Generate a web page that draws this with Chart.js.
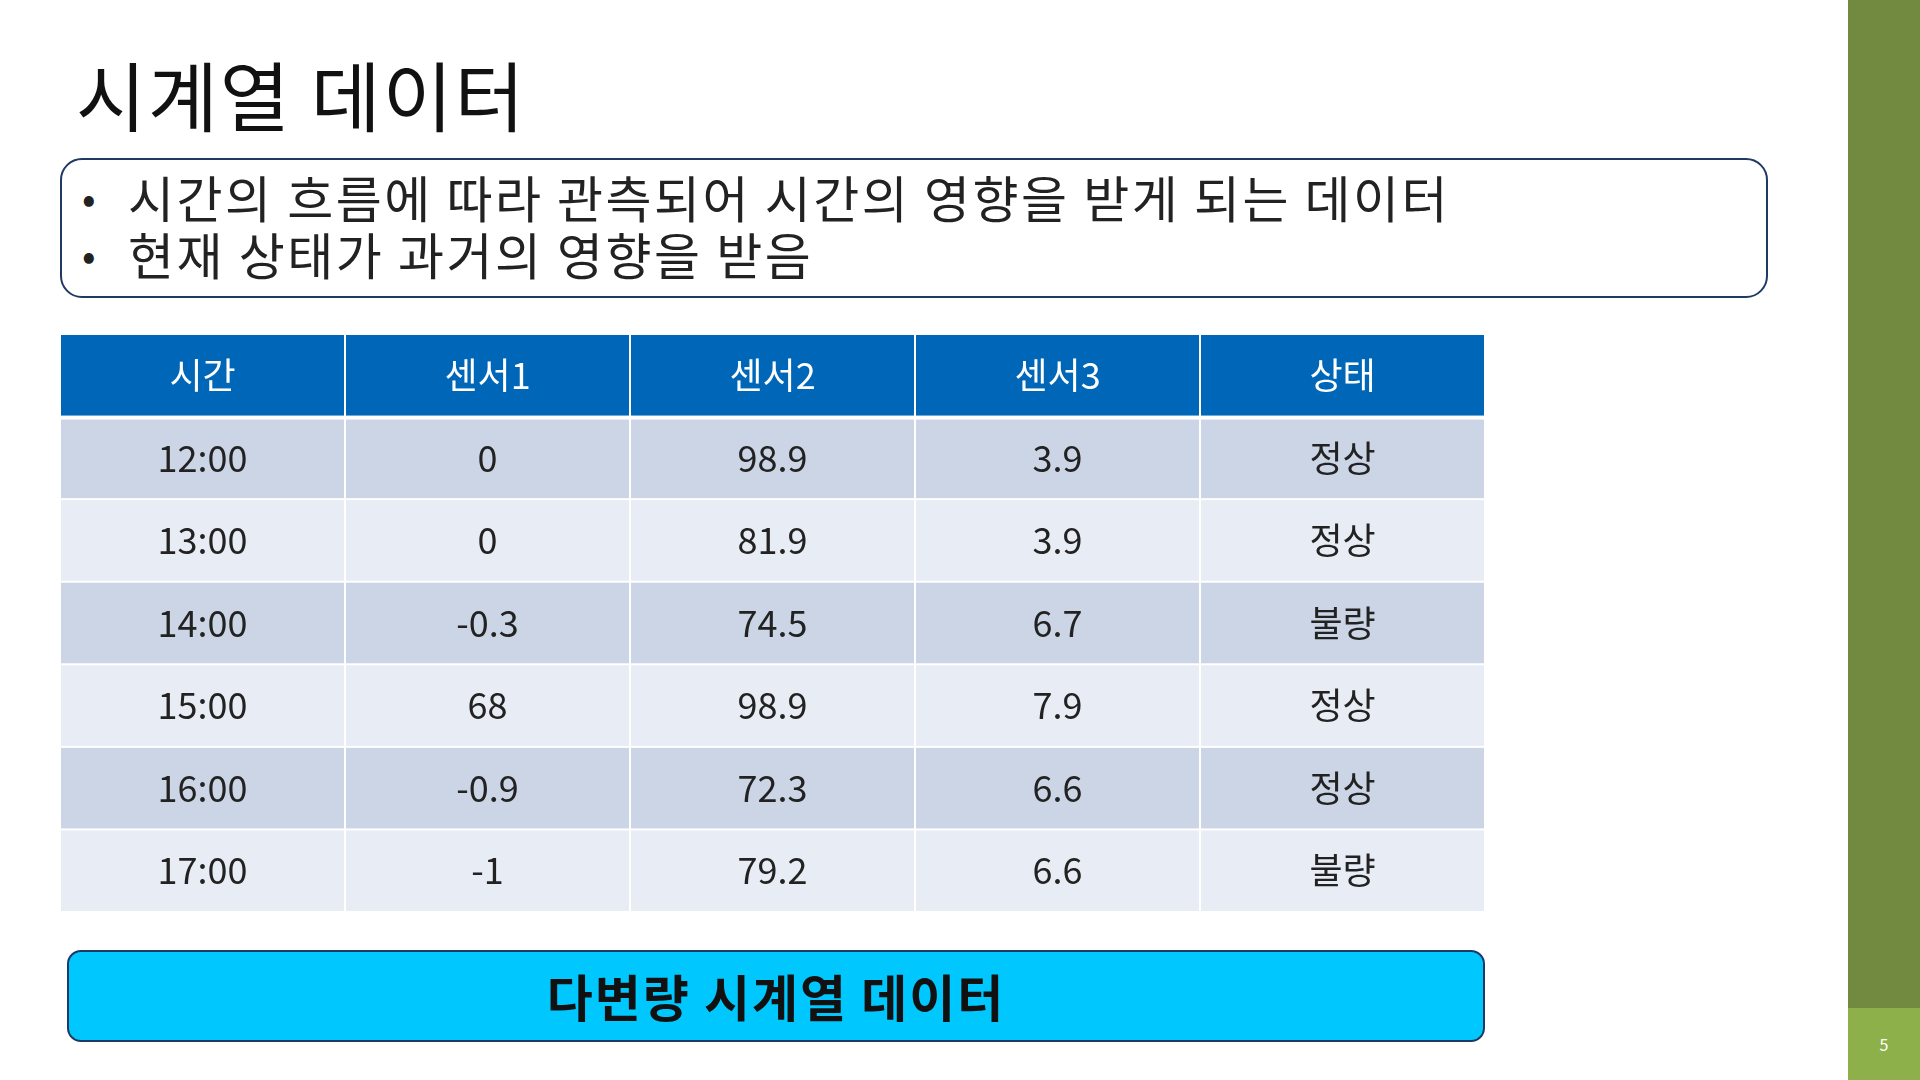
<!DOCTYPE html>
<html>
<head>
<meta charset="utf-8">
<script src="https://cdn.jsdelivr.net/npm/chart.js@4"></script>
<style>
  body { margin: 0; width: 1920px; height: 1080px; background: #fff; position: relative; overflow: hidden;
         font-family: "Noto Sans CJK KR", "Noto Sans", sans-serif; }
  #title { position: absolute; left: 76px; top: 38px; font-size: 76px; color: #111; letter-spacing: 2px; }
  #box { position: absolute; left: 60px; top: 158px; height: 140px; width: 1708px; border: 2px solid #1F3864;
         border-radius: 22px; box-sizing: border-box; padding-top: 8px; }
  #box ul { margin: 0; padding: 0; list-style: none; font-size: 50px; line-height: 57px; color: #222; letter-spacing: 2.5px; }
  #box li { position: relative; padding-left: 66px; }
  #box li::before { content: "•"; position: absolute; left: 20px; font-size: 40px; }
  #tableWrap { position: absolute; left: 60px; top: 334px; width: 1425px; height: 578px; }
  #bottom { position: absolute; left: 67px; top: 950px; width: 1418px; height: 92px; background: #00C8FF;
            border: 2px solid #1F3864; border-radius: 14px; box-sizing: border-box; font-weight: bold;
            font-size: 50px; text-align: center; line-height: 86px; color: #111; letter-spacing: 2px; }
  #side { position: absolute; left: 1848px; top: 0; width: 72px; height: 1008px; background: #718A40; }
  #page { position: absolute; left: 1848px; top: 1008px; width: 72px; height: 72px; background: #8DB04B;
          color: #fff; font-size: 16px; text-align: center; line-height: 72px; }
</style>
</head>
<body>
<div id="title">시계열 데이터</div>
<div id="box"><ul>
  <li>시간의 흐름에 따라 관측되어 시간의 영향을 받게 되는 데이터</li>
  <li>현재 상태가 과거의 영향을 받음</li>
</ul></div>
<div id="tableWrap"><canvas id="table"></canvas></div>
<div id="bottom">다변량 시계열 데이터</div>
<div id="side"></div>
<div id="page">5</div>
<script>
var headers = ['시간', '센서1', '센서2', '센서3', '상태'];
var times = ['12:00', '13:00', '14:00', '15:00', '16:00', '17:00'];
var sensor1 = ['0', '0', '-0.3', '68', '-0.9', '-1'];
var sensor2 = ['98.9', '81.9', '74.5', '98.9', '72.3', '79.2'];
var sensor3 = ['3.9', '3.9', '6.7', '7.9', '6.6', '6.6'];
var stateLabels = ['정상', '정상', '불량', '정상', '정상', '불량'];

var columns = [times, sensor1, sensor2, sensor3, stateLabels];
var rowLabels = ['header'].concat(times);

var tablePlugin = {
    id: 'tableCells',
    afterDraw: function(chart) {
        var ctx = chart.ctx;
        var xs = chart.scales.x, ys = chart.scales.y;
        var cw = chart.chartArea.width / headers.length;
        var ch = chart.chartArea.height / rowLabels.length;
        ctx.save();
        ctx.textAlign = 'center';
        ctx.textBaseline = 'middle';
        for (var r = 0; r < rowLabels.length; r++) {
            var cy = ys.getPixelForValue(r);
            for (var c = 0; c < headers.length; c++) {
                var cx = xs.getPixelForValue(c);
                var fill, text, color;
                if (r === 0) { fill = '#0067B8'; text = headers[c]; color = '#fff'; }
                else { fill = (r % 2 === 1) ? '#CBD5E6' : '#E8ECF5'; text = columns[c][r - 1]; color = '#222'; }
                ctx.fillStyle = fill;
                var top = cy - ch / 2 + (r === 1 ? 3 : 1);
                ctx.fillRect(cx - cw / 2 + 1, top, cw - 2, cy + ch / 2 - 1 - top);
                ctx.fillStyle = color;
                ctx.font = '36px "Noto Sans CJK KR", sans-serif';
                ctx.fillText(text, cx, cy);
            }
        }
        ctx.restore();
    }
};

new Chart(document.getElementById('table'), {
    type: 'scatter',
    data: { datasets: [{ data: [] }] },
    options: {
        responsive: true,
        maintainAspectRatio: false,
        animation: false,
        layout: { padding: 0 },
        plugins: { legend: { display: false }, tooltip: { enabled: false } },
        scales: {
            x: { type: 'category', labels: headers, offset: true, display: false },
            y: { type: 'category', labels: rowLabels, offset: true, display: false }
        }
    },
    plugins: [tablePlugin]
});
</script>
</body>
</html>
